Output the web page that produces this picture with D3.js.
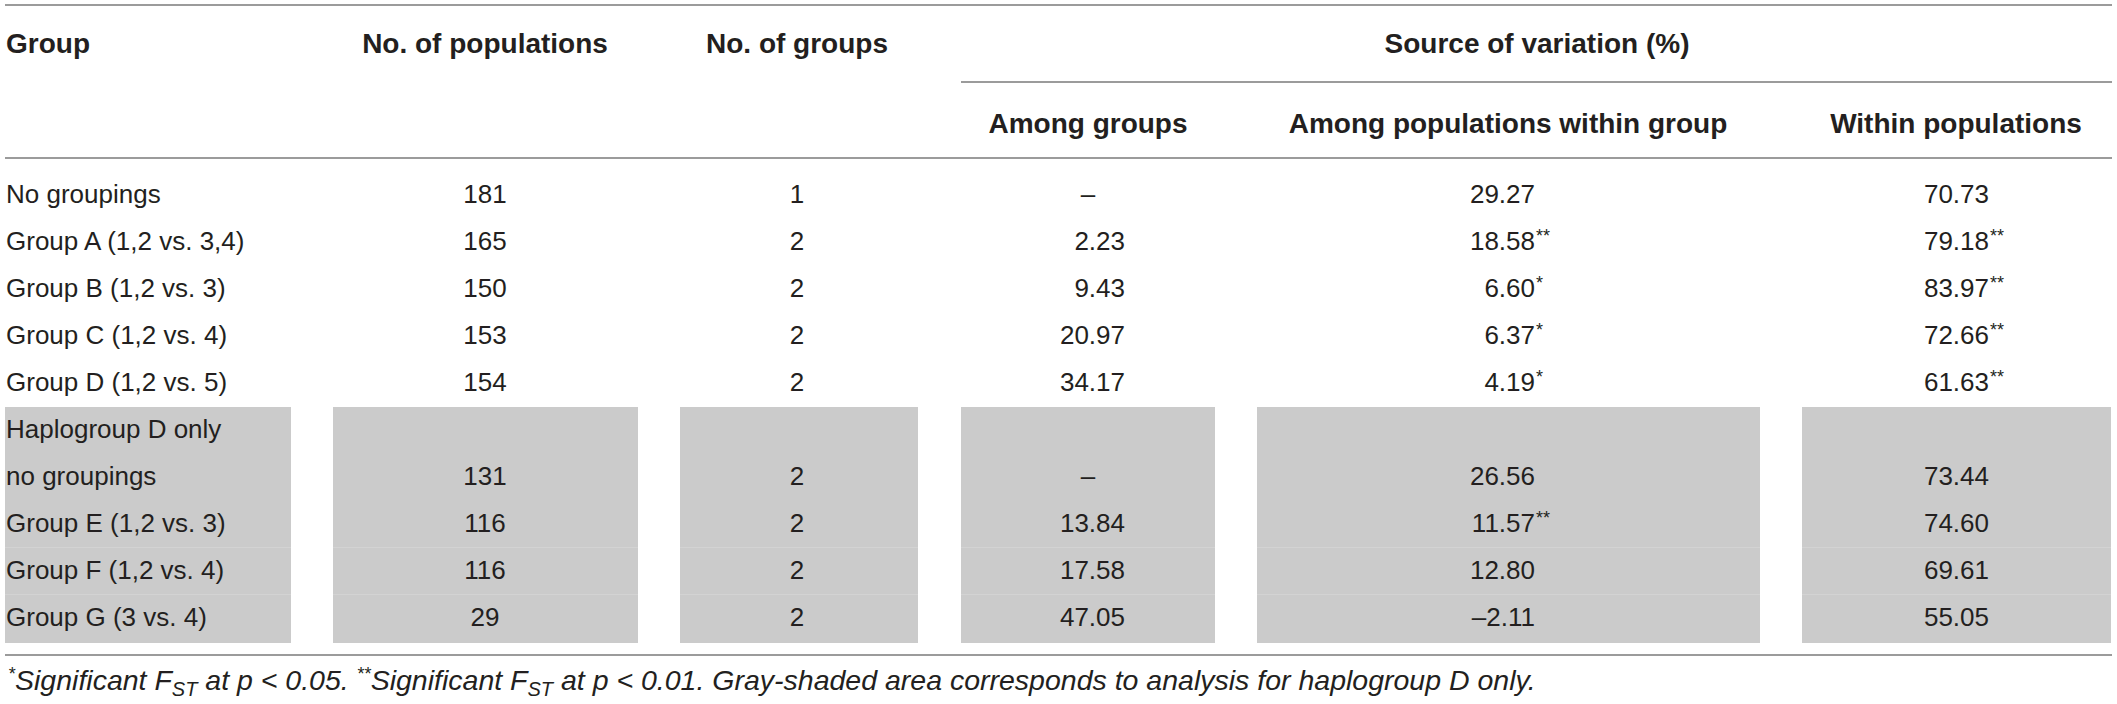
<!DOCTYPE html>
<html><head><meta charset="utf-8">
<script src="https://cdn.jsdelivr.net/npm/d3@7/dist/d3.min.js"></script>
<style>
html,body{margin:0;padding:0;background:#fff;}
svg text{font-family:"Liberation Sans",Arial,Helvetica,sans-serif;fill:#231f20;}
</style></head>
<body><svg id="c" width="2117" height="704"></svg>
<script>
// ---- data ----
const groups = ["No groupings","Group A (1,2 vs. 3,4)","Group B (1,2 vs. 3)","Group C (1,2 vs. 4)","Group D (1,2 vs. 5)","Haplogroup D only","no groupings","Group E (1,2 vs. 3)","Group F (1,2 vs. 4)","Group G (3 vs. 4)"];
const nPopulations = ["181","165","150","153","154","","131","116","116","29"];
const nGroups = ["1","2","2","2","2","","2","2","2","2"];
const amongGroups = ["–","2.23","9.43","20.97","34.17","","–","13.84","17.58","47.05"];
const amongPops = ["29.27","18.58","6.60","6.37","4.19","","26.56","11.57","12.80","–2.11"];
const amongPopsSig = ["","**","*","*","*","","","**","",""];
const withinPops = ["70.73","79.18","83.97","72.66","61.63","","73.44","74.60","69.61","55.05"];
const withinPopsSig = ["","**","**","**","**","","","","",""];
const headers1 = ["Group","No. of populations","No. of groups","Source of variation (%)"];
const headers2 = ["Among groups","Among populations within group","Within populations"];

// ---- layout ----
const svg = d3.select("#c");
const rowY = d3.scalePoint().domain(d3.range(groups.length)).range([203, 626]); // baselines
const cols = [
  {box:[5,291]},
  {box:[333,638], center:485},
  {box:[680,918], center:797},
  {box:[961,1215], center:1088, right:1125},
  {box:[1257,1760], center:1508, right:1535},
  {box:[1802,2111], center:1956, right:1989}
];
const lineColor = "#7a7a7a";
const fs = 26;

// shaded blocks
const shadeTop = 407, shadeBot = 643;
cols.forEach(c => {
  svg.append("rect").attr("x", c.box[0]).attr("y", shadeTop)
    .attr("width", c.box[1]-c.box[0]).attr("height", shadeBot-shadeTop)
    .attr("fill", "#cbcbcb");
});
[7,8].forEach(i => {
  const y = (rowY(i) + rowY(i+1))/2 - 8;
  cols.forEach(c => {
    svg.append("line").attr("x1", c.box[0]).attr("x2", c.box[1])
      .attr("y1", y).attr("y2", y).attr("stroke", "#d3d3d3").attr("stroke-width", 1);
  });
});

// rules
function hline(y, x1, x2){
  svg.append("line").attr("x1", x1).attr("x2", x2).attr("y1", y).attr("y2", y)
    .attr("stroke", lineColor).attr("stroke-width", 1.6);
}
hline(5, 5, 2112);
hline(82, 961, 2112);
hline(158, 5, 2112);
hline(655, 5, 2112);

// headers
const hb1 = 53, hb2 = 133;
function htext(x, y, t, anchor){
  svg.append("text").attr("x", x).attr("y", y).attr("text-anchor", anchor)
    .attr("font-size", 28).attr("font-weight", "bold").text(t);
}
htext(6, hb1, headers1[0], "start");
htext(cols[1].center, hb1, headers1[1], "middle");
htext(cols[2].center, hb1, headers1[2], "middle");
htext(1537, hb1, headers1[3], "middle");
htext(cols[3].center, hb2, headers2[0], "middle");
htext(cols[4].center, hb2, headers2[1], "middle");
htext(cols[5].center, hb2, headers2[2], "middle");

// body
function cell(x, y, t, anchor, sig){
  if (t === "") return;
  svg.append("text").attr("x", x).attr("y", y).attr("text-anchor", anchor)
    .attr("font-size", fs).attr("fill", "#2b2b2b").text(t);
  if (sig) {
    svg.append("text").attr("x", x + 1).attr("y", y - 8)
      .attr("font-size", 18).attr("fill", "#2b2b2b").text(sig);
  }
}
groups.forEach((g, i) => {
  const y = rowY(i);
  cell(6, y, g, "start");
  cell(cols[1].center, y, nPopulations[i], "middle");
  cell(cols[2].center, y, nGroups[i], "middle");
  if (amongGroups[i] === "–") cell(cols[3].center, y, "–", "middle");
  else cell(cols[3].right, y, amongGroups[i], "end");
  cell(cols[4].right, y, amongPops[i], "end", amongPopsSig[i]);
  cell(cols[5].right, y, withinPops[i], "end", withinPopsSig[i]);
});

// footnote
const fnParts = [
  {t:"*", k:"sup"}, {t:"Significant F", k:""}, {t:"ST", k:"sub"}, {t:" at p < 0.05. ", k:""},
  {t:"**", k:"sup"}, {t:"Significant F", k:""}, {t:"ST", k:"sub"},
  {t:" at p < 0.01. Gray-shaded area corresponds to analysis for haplogroup D only.", k:""}
];
const fn = svg.append("text").attr("x", 8).attr("y", 690)
  .attr("font-size", 28.5).attr("font-style", "italic").attr("fill", "#2b2b2b");
let shift = 0;
fnParts.forEach(p => {
  const target = p.k === "sup" ? -10 : p.k === "sub" ? 6 : 0;
  const ts = fn.append("tspan").attr("dy", target - shift).text(p.t);
  if (p.k) ts.attr("font-size", p.k === "sup" ? 18 : 20);
  shift = target;
});
</script></body></html>
